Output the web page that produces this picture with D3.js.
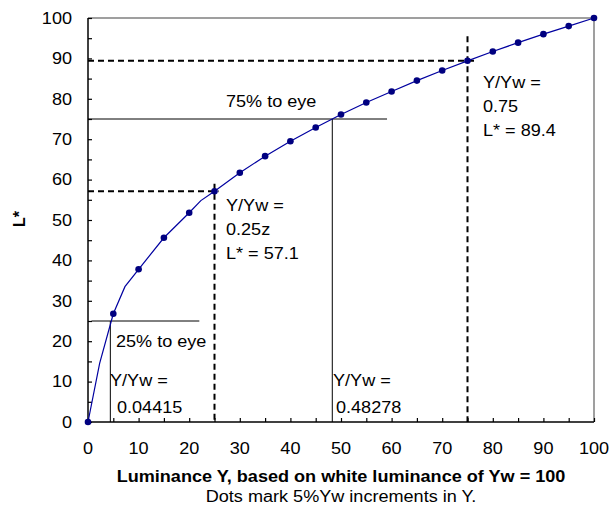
<!DOCTYPE html>
<html><head><meta charset="utf-8">
<script src="https://cdn.jsdelivr.net/npm/d3@7"></script>
<style>body{margin:0;background:#fff}svg{display:block}text{font-family:"Liberation Sans",Arial,sans-serif}</style>
</head><body>
<svg id="c" width="614" height="508"></svg>
<script>
// Marked dots (5% Yw increments)
const dotY = [0,5,10,15,20,25,30,35,40,45,50,55,60,65,70,75,80,85,90,95,100];
const dotL = [0,26.8,37.8,45.6,51.8,57.1,61.7,65.8,69.5,72.9,76.1,79.1,81.8,84.5,87.0,89.4,91.7,93.9,96.0,98.0,100];
// Line vertices (includes unmarked points)
const lineY = [0,2.3,5,7.3,10,15,20,22.3,25,30,35,40,45,50,55,60,65,70,75,80,85,90,95,100];
const lineL = [0,14.5,26.8,33.5,37.8,45.6,51.8,54.8,57.1,61.7,65.8,69.5,72.9,76.1,79.1,81.8,84.5,87.0,89.4,91.7,93.9,96.0,98.0,100];
const xTicks = [0,10,20,30,40,50,60,70,80,90,100];
const yTicks = [0,10,20,30,40,50,60,70,80,90,100];
const minorTicks = [5,15,25,35,45,55,65,75,85,95];
const xTitle = "Luminance Y, based on white luminance of Yw = 100";
const subTitle = "Dots mark 5%Yw increments in Y.";
const yTitle = "L*";

const svg = d3.select("#c");
const x = d3.scaleLinear().domain([0,100]).range([88,594]);
const y = d3.scaleLinear().domain([0,100]).range([422,18]);
const FS = 16, SX = 1.13;

// top/right border
svg.append("path").attr("d",`M${x(0)},${y(100)}H${x(100)}V${y(0)}`).attr("fill","none").attr("stroke","#808080").attr("stroke-width",1.5);

// reference lines
const g = svg.append("g").attr("stroke","#000").attr("fill","none");
g.append("path").attr("d",`M${x(0)},${y(57.1)}H${x(25.8)}`).attr("stroke-width",2).attr("stroke-dasharray","6,4");
g.append("path").attr("d",`M${x(25)},${y(59)}V${y(0)}`).attr("stroke-width",2).attr("stroke-dasharray","6,4");
g.append("path").attr("d",`M${x(0)},${y(89.4)}H${x(77)}`).attr("stroke-width",2).attr("stroke-dasharray","6,4");
g.append("path").attr("d",`M${x(75)},${y(95.5)}V${y(0)}`).attr("stroke-width",2).attr("stroke-dasharray","6,4");
g.append("path").attr("d",`M${x(0)},${y(75)}H${x(59.1)}`).attr("stroke-width",1);
g.append("path").attr("d",`M${x(48.278)},${y(75)}V${y(0)}`).attr("stroke-width",1);
g.append("path").attr("d",`M${x(0.7)},${y(25)}H${x(22)}`).attr("stroke-width",1);
g.append("path").attr("d",`M${x(4.415)},${y(25)}V${y(0)}`).attr("stroke-width",1);

// axes
const xAxis = d3.axisBottom(x).tickValues(xTicks.concat(minorTicks)).tickSize(-4).tickFormat("");
const ax = svg.append("g").attr("transform",`translate(0,${y(0)})`).call(xAxis);
ax.select(".domain").attr("stroke","#000").attr("stroke-width",1.5).attr("d",`M${x(0)},0H${x(100)}`);
ax.selectAll(".tick line").attr("stroke","#000").attr("stroke-width",1.2);
const yAxis = d3.axisLeft(y).tickValues(yTicks.concat(minorTicks)).tickSize(-4).tickFormat("");
const ay = svg.append("g").attr("transform",`translate(${x(0)},0)`).call(yAxis);
ay.select(".domain").attr("stroke","#000").attr("stroke-width",1.5).attr("d",`M0,${y(0)}V${y(100)}`);
ay.selectAll(".tick line").attr("stroke","#000").attr("stroke-width",1.2);

function txt(sel, px, py){
  return sel.attr("transform",(d,i)=>`translate(${px(d,i)},${py(d,i)}) scale(${SX},1)`).attr("font-size",FS);
}
// tick labels
txt(svg.append("g").selectAll("text").data(xTicks).join("text"), d=>x(d), ()=>454)
  .attr("text-anchor","middle").text(d=>d);
txt(svg.append("g").selectAll("text").data(yTicks).join("text"), ()=>72, d=>y(d)+5.8)
  .attr("text-anchor","end").text(d=>d);

// curve
const pts = lineY.map((v,i)=>[v,lineL[i]]);
svg.append("path").attr("d",d3.line().x(d=>x(d[0])).y(d=>y(d[1]))(pts))
  .attr("fill","none").attr("stroke","#0000A0").attr("stroke-width",1.2);
svg.append("g").selectAll("circle").data(dotY).join("circle")
  .attr("cx",d=>x(d)).attr("cy",(d,i)=>y(dotL[i])).attr("r",3.3).attr("fill","#000080");

// annotations
const ann = [
  ["75% to eye",226,107],
  ["25% to eye",116,347],
  ["Y/Yw =",110,386],["0.04415",117,413],
  ["Y/Yw =",333,386],["0.48278",336,413],
  ["Y/Yw =",226,211],["0.25z",226,235],["L* = 57.1",226,259],
  ["Y/Yw =",483,88],["0.75",483,112],["L* = 89.4",483,136]
];
txt(svg.append("g").selectAll("text").data(ann).join("text"), d=>d[1], d=>d[2]).text(d=>d[0]);

// titles
svg.append("text").attr("transform",`translate(341,482) scale(${SX},1)`).attr("text-anchor","middle").attr("font-size",FS).attr("font-weight","bold").text(xTitle);
svg.append("text").attr("transform",`translate(341,502) scale(${SX},1)`).attr("text-anchor","middle").attr("font-size",FS).text(subTitle);
svg.append("text").attr("transform","translate(25,219) rotate(-90)").attr("text-anchor","middle").attr("font-size",FS).attr("font-weight","bold").text(yTitle);
</script>
</body></html>
